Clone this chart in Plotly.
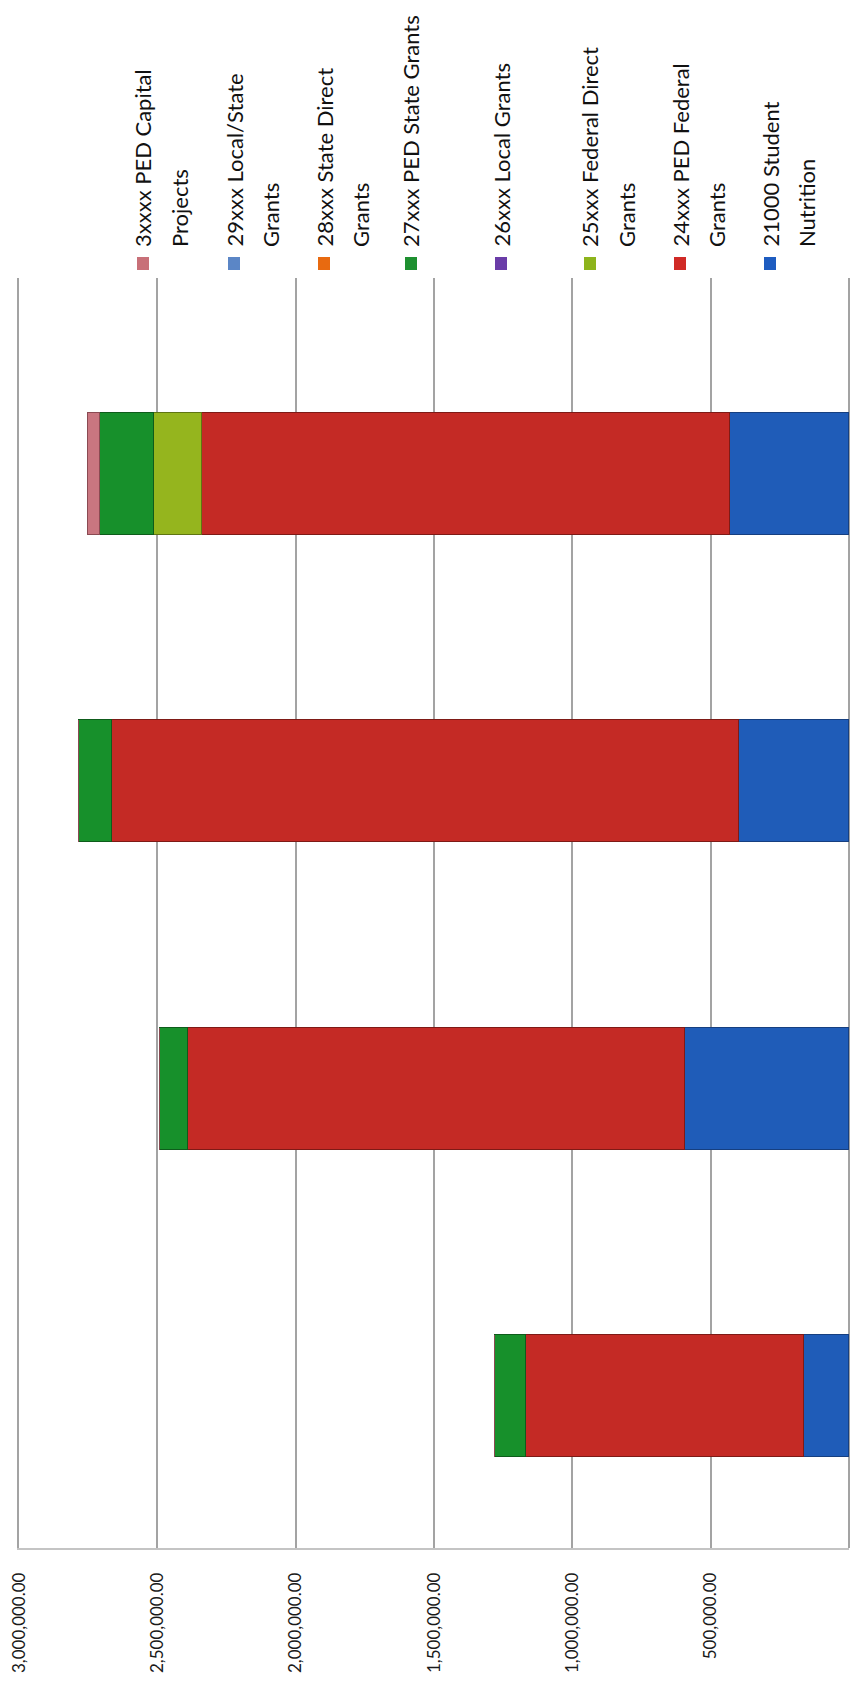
import plotly.graph_objects as go

# Funding categories (stacked from zero outward) and their amounts per group
groups = ["Group 1", "Group 2", "Group 3", "Group 4"]

series_names = [
    "21000 Student Nutrition",
    "24xxx PED Federal Grants",
    "25xxx Federal Direct Grants",
    "26xxx Local Grants",
    "27xxx PED State Grants",
    "28xxx State Direct Grants",
    "29xxx Local/State Grants",
    "3xxxx PED Capital Projects",
]

student_nutrition = [163000, 593000, 398000, 430000]
ped_federal = [1005000, 1796000, 2266000, 1908000]
federal_direct = [0, 0, 0, 173000]
local_grants = [0, 0, 0, 0]
ped_state = [110000, 101000, 119000, 195000]
state_direct = [0, 0, 0, 0]
local_state = [0, 0, 0, 0]
capital_projects = [0, 0, 0, 44000]

series_values = [
    student_nutrition, ped_federal, federal_direct, local_grants,
    ped_state, state_direct, local_state, capital_projects,
]

tick_values = [0, 500000, 1000000, 1500000, 2000000, 2500000, 3000000]
tick_labels = ["-", "500,000.00", "1,000,000.00", "1,500,000.00",
               "2,000,000.00", "2,500,000.00", "3,000,000.00"]

# Legend, listed top entry first, split over lines as in the legend box
legend_order = [7, 6, 5, 4, 3, 2, 1, 0]
legend_lines = {
    7: ["3xxxx PED Capital", "Projects"],
    6: ["29xxx Local/State", "Grants"],
    5: ["28xxx State Direct", "Grants"],
    4: ["27xxx PED State Grants"],
    3: ["26xxx Local Grants"],
    2: ["25xxx Federal Direct", "Grants"],
    1: ["24xxx PED Federal", "Grants"],
    0: ["21000 Student", "Nutrition"],
}

fill_colors = ["#1F5CB8", "#C42A25", "#95B51E", "#6A3CA8",
               "#17902B", "#E86A10", "#5B86C6", "#C97680"]
edge_colors = ["#163F80", "#7E1A16", "#5F7512", "#452670",
               "#0E5C1B", "#9A440A", "#3B5A88", "#8A4A52"]
legend_colors = ["#1E5CC0", "#D02A26", "#8DB41C", "#6A3CA8",
                 "#1E9030", "#E86A10", "#5B86C6", "#C87078"]

W, H = 850, 1691
L, R, T, B = 19, 1, 278, 143
PW, PH = W - L - R, H - T - B


def px(x):
    return (x - L) / PW


def py(y):
    return (H - B - y) / PH


fig = go.Figure()
for i, name in enumerate(series_names):
    fig.add_trace(go.Bar(
        y=list(range(len(groups))),
        x=series_values[i],
        orientation="h",
        name=name,
        width=0.397,
        marker=dict(color=fill_colors[i], line=dict(color=edge_colors[i], width=1)),
        showlegend=False,
        hovertext=groups,
    ))

FONT = "Lato, 'Open Sans', sans-serif"

shapes = []
annotations = []
marker_x = [143, 234, 324, 411, 501, 590, 680, 770]
for k, idx in enumerate(legend_order):
    cx = marker_x[k]
    shapes.append(dict(
        type="rect", xref="paper", yref="paper",
        x0=px(cx - 6), x1=px(cx + 6), y0=py(270), y1=py(257),
        fillcolor=legend_colors[idx], line=dict(width=0), layer="above",
    ))
    for j, line in enumerate(legend_lines[idx]):
        annotations.append(dict(
            xref="paper", yref="paper", x=px(cx + 37 * j), y=py(249),
            xanchor="center", yanchor="bottom", text=line, textangle=-90,
            showarrow=False, align="left",
            font=dict(family=FONT, size=22, color="#111111"),
        ))

fig.update_layout(
    width=W, height=H, autosize=False,
    margin=dict(l=L, r=R, t=T, b=B, pad=0),
    paper_bgcolor="white", plot_bgcolor="white",
    barmode="stack", bargap=0,
    shapes=shapes, annotations=annotations,
    xaxis=dict(
        range=[3000000, 0],
        tickvals=tick_values, ticktext=tick_labels, tickangle=-90,
        tickfont=dict(family=FONT, size=17, color="#1a1a1a"),
        ticks="", ticklabelstandoff=16,
        showgrid=True, gridcolor="#A3A3A3", gridwidth=1.5,
        zeroline=True, zerolinecolor="#A3A3A3", zerolinewidth=1.5,
        showline=True, linecolor="#C4C4C4", linewidth=1.5,
    ),
    yaxis=dict(
        range=[-0.494, 3.637], showticklabels=False, ticks="",
        showgrid=False, zeroline=False,
        showline=True, linecolor="#A3A3A3", linewidth=1.5,
    ),
)

fig.write_html("out.html")
